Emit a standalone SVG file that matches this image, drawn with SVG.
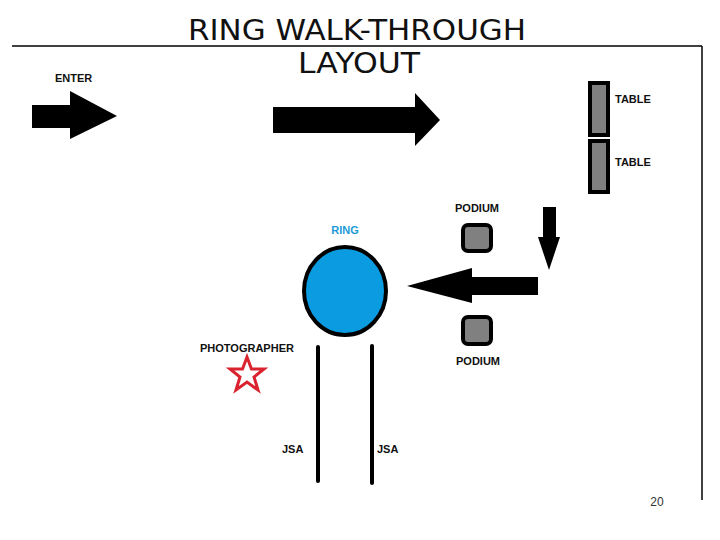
<svg xmlns="http://www.w3.org/2000/svg" width="720" height="540" viewBox="0 0 720 540">
<style>
.lbl{font-family:"Liberation Sans",Arial,sans-serif;font-weight:bold;font-size:11px;fill:#111}
.title{font-family:"Comic Sans MS","DejaVu Sans",sans-serif;font-size:29px;fill:#111}
.arrow{fill:#000}
.table{fill:#808080;stroke:#000;stroke-width:4}
.podium{fill:#808080;stroke:#000;stroke-width:4}
.jsa{stroke:#000;stroke-width:4;stroke-linecap:round}
</style>
<rect width="720" height="540" fill="#fff"/>
<g id="frame">
<line x1="12" y1="46" x2="702" y2="46" stroke="#000" stroke-width="1.5"/>
<line x1="702" y1="46" x2="702" y2="500" stroke="#000" stroke-width="1.5"/>
</g>
<g id="title">
<text class="title" x="188" y="40" textLength="338" lengthAdjust="spacingAndGlyphs">RING WALK-THROUGH</text>
<text class="title" x="298" y="73" textLength="122" lengthAdjust="spacingAndGlyphs">LAYOUT</text>
</g>
<g id="enter">
<text class="lbl" x="55" y="82">ENTER</text>
</g>
<g id="connectors">
<polygon class="arrow" points="32,105 70,105 70,91 117,116 70,139 70,128 32,128"/>
<polygon class="arrow" points="273,107 415,107 415,93 440,120 415,146 415,133 273,133"/>
<polygon class="arrow" points="543,207 556,207 556,237 560,237 549,270 538,237 543,237"/>
<polygon class="arrow" points="538,277 538,295 472,295 472,303 407,286 472,268 472,277"/>
</g>
<g id="table1">
<rect class="table" x="590" y="83" width="18" height="52"/>
<text class="lbl" x="615" y="103">TABLE</text>
</g>
<g id="table2">
<rect class="table" x="590" y="141" width="18" height="51"/>
<text class="lbl" x="615" y="166">TABLE</text>
</g>
<g id="podium1">
<text class="lbl" x="477" y="212" text-anchor="middle">PODIUM</text>
<rect class="podium" x="463" y="225" width="28" height="26" rx="5"/>
</g>
<g id="podium2">
<rect class="podium" x="463" y="317" width="28" height="27" rx="5"/>
<text class="lbl" x="478" y="365" text-anchor="middle">PODIUM</text>
</g>
<g id="ring">
<text class="lbl" x="345" y="234" text-anchor="middle" style="fill:#1e9bd7">RING</text>
<ellipse cx="345" cy="291" rx="41" ry="44" fill="#0a9be0" stroke="#000" stroke-width="4"/>
</g>
<g id="photographer">
<text class="lbl" x="200" y="352">PHOTOGRAPHER</text>
<polygon points="247,357 251.5,369 264,369 254,377 258,390 247,382 236,390 240,377 230,369 242.5,369" fill="#fff" stroke="#d9232e" stroke-width="3" stroke-linejoin="miter"/>
</g>
<g id="jsa-left">
<line class="jsa" x1="318" y1="347" x2="318" y2="481"/>
<text class="lbl" x="282" y="453">JSA</text>
</g>
<g id="jsa-right">
<line class="jsa" x1="372" y1="346" x2="372" y2="483"/>
<text class="lbl" x="377" y="453">JSA</text>
</g>
<g id="page">
<text x="657" y="506" text-anchor="middle" style="font-family:'Liberation Sans',Arial,sans-serif;font-size:12px;fill:#333">20</text>
</g>
</svg>
